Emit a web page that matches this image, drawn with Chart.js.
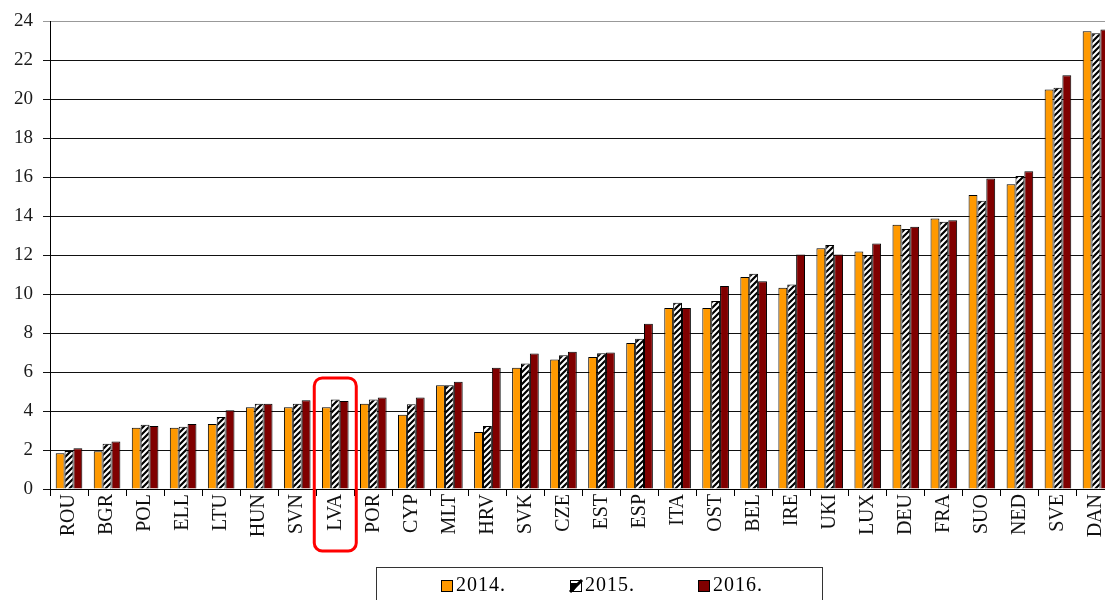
<!DOCTYPE html>
<html>
<head>
<meta charset="utf-8">
<script src="https://cdn.jsdelivr.net/npm/chart.js@4/dist/chart.umd.min.js"></script>
<style>
html,body{margin:0;padding:0;background:#fff;overflow:hidden;width:1105px;height:600px;}
#wrap{position:absolute;left:0;top:0;width:1125px;height:600px;}
</style>
</head>
<body>
<div id="wrap"><canvas id="c" width="1125" height="600"></canvas></div>
<script>
const categories = ['ROU','BGR','POL','ELL','LTU','HUN','SVN','LVA','POR','CYP','MLT','HRV','SVK','CZE','EST','ESP','ITA','OST','BEL','IRE','UKI','LUX','DEU','FRA','SUO','NED','SVE','DAN'];
const seriesLabels = ['2014.','2015.','2016.'];
const v2014 = [1.83,1.94,3.14,3.14,3.33,4.2,4.2,4.2,4.38,3.81,5.33,2.92,6.22,6.65,6.77,7.5,9.29,9.29,10.88,10.33,12.36,12.19,13.56,13.88,15.09,15.64,20.51,23.49];
const v2015 = [1.95,2.32,3.3,3.2,3.69,4.38,4.38,4.6,4.6,4.35,5.33,3.23,6.44,6.87,6.97,7.71,9.56,9.65,11.05,10.49,12.52,12.01,13.34,13.72,14.8,16.07,20.59,23.39];
const v2016 = [2.09,2.44,3.23,3.33,4.04,4.38,4.55,4.52,4.69,4.69,5.5,6.22,6.96,7.04,7.0,8.48,9.29,10.42,10.66,12.03,12.04,12.6,13.46,13.8,15.94,16.31,21.24,23.59];
const yTicks = [0,2,4,6,8,10,12,14,16,18,20,22,24];
const highlighted = 'LVA';

const ORANGE = '#FF9900';
const MAROON = '#800000';

function makeHatch(){
  const t = document.createElement('canvas');
  const s = 6;
  t.width = s; t.height = s;
  const g = t.getContext('2d');
  g.fillStyle = '#fff'; g.fillRect(0,0,s,s);
  g.strokeStyle = '#000'; g.lineWidth = 2.2;
  g.beginPath();
  g.moveTo(-s, 2*s); g.lineTo(2*s, -s);
  g.moveTo(-2*s, 2*s); g.lineTo(s, -s);
  g.moveTo(0, 2*s); g.lineTo(3*s, -s);
  g.stroke();
  return document.getElementById('c').getContext('2d').createPattern(t,'repeat');
}
const HATCH = makeHatch();

const SERIF = "'Liberation Serif','Times New Roman',serif";

const legendPlugin = {
  id: 'boxLegend',
  afterDraw(chart){
    const ctx = chart.ctx;
    ctx.save();
    ctx.letterSpacing = '1px';
    ctx.strokeStyle = '#333'; ctx.lineWidth = 1;
    ctx.strokeRect(376.5, 567.5, 446, 40);
    const items = [[441,ORANGE],[570,'hatch'],[698,MAROON]];
    ctx.font = '20px ' + SERIF;
    ctx.textBaseline = 'middle';
    ctx.fillStyle = '#000';
    items.forEach((it,i)=>{
      const x = it[0], y = 580;
      if(it[1]==='hatch'){
        ctx.fillStyle = '#fff'; ctx.fillRect(x, y, 12, 12);
        ctx.fillStyle = '#000';
        ctx.beginPath(); ctx.moveTo(x, y+12); ctx.lineTo(x, y+3); ctx.lineTo(x+9, y+3); ctx.lineTo(x+3, y+12); ctx.closePath(); ctx.fill();
        ctx.beginPath(); ctx.moveTo(x,y+12); ctx.lineTo(x+12,y); ctx.lineWidth=3; ctx.stroke();
      } else {
        ctx.fillStyle = it[1]; ctx.fillRect(x, y, 12, 12);
      }
      ctx.lineWidth = 1; ctx.strokeStyle = '#000';
      ctx.strokeRect(x+0.5, y+0.5, 11, 11);
      ctx.fillStyle = '#000';
      ctx.fillText(seriesLabels[i], x+15, y+6);
    });
    ctx.letterSpacing = '0px';
    // highlight box around one category
    const xs = chart.scales.x, ys = chart.scales.y;
    const idx = categories.indexOf(highlighted);
    const cx = xs.getPixelForValue(idx);
    const left = cx - 21, right = cx + 21;
    const top = ys.getPixelForValue(5.7), bottom = ys.bottom + 62;
    ctx.strokeStyle = '#FF0000'; ctx.lineWidth = 3;
    ctx.beginPath();
    ctx.roundRect(left, top, right-left, bottom-top, 8);
    ctx.stroke();
    ctx.restore();
  }
};

new Chart(document.getElementById('c'), {
  type: 'bar',
  data: {
    labels: categories,
    datasets: [
      {label: seriesLabels[0], data: v2014, backgroundColor: ORANGE, borderColor: '#000', borderWidth: 1},
      {label: seriesLabels[1], data: v2015, backgroundColor: HATCH, borderColor: '#000', borderWidth: 1},
      {label: seriesLabels[2], data: v2016, backgroundColor: MAROON, borderColor: '#000', borderWidth: 1}
    ]
  },
  options: {
    responsive: false,
    animation: false,
    devicePixelRatio: 1,
    layout: {padding: {top: 21, right: 10, left: 0, bottom: 0}},
    datasets: {bar: {categoryPercentage: 0.7, barPercentage: 1.0}},
    plugins: {legend: {display: false}, tooltip: {enabled: false}},
    scales: {
      x: {
        afterFit(s){ s.height = 111; },
        grid: {display: true, drawOnChartArea: false, drawTicks: true, tickLength: 7, color: '#000', offset: true},
        border: {display: true, color: '#000', width: 1},
        ticks: {autoSkip: false, minRotation: 90, maxRotation: 90, padding: -2, color: '#111', font: {family: SERIF, size: 20}}
      },
      y: {
        min: 0, max: 24,
        afterFit(s){ s.width = 50; },
        afterBuildTicks(s){ s.ticks = yTicks.map(v=>({value:v})); },
        grid: {color: (c)=> (c.tick && c.tick.value===24) ? '#999' : '#111', lineWidth: 1, tickLength: 7, drawTicks: true},
        border: {display: true, color: '#000', width: 1},
        ticks: {padding: 10, color: '#1a1a1a', font: {family: SERIF, size: 19}}
      }
    }
  },
  plugins: [legendPlugin]
});
</script>
</body>
</html>
